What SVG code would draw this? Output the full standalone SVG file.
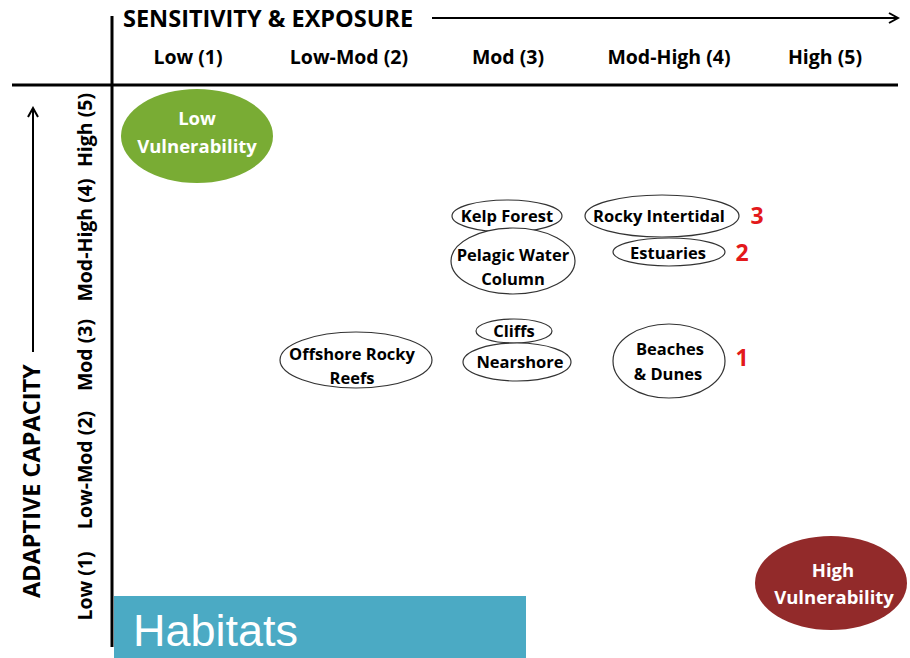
<svg xmlns="http://www.w3.org/2000/svg" width="910" height="658" viewBox="0 0 910 658">
<defs>
<style>
.ax{stroke:#000;stroke-width:3;fill:none}
.arr{stroke:#000;stroke-width:2;fill:none}
.t{font-family:"Open Sans",Lato,"Liberation Sans",sans-serif;font-weight:bold;fill:#000}
.h{font-size:23.5px}
.c{font-size:19.5px;text-anchor:middle}
.n{font-size:16.5px;text-anchor:middle}
.e{fill:#fff;stroke:#333;stroke-width:1.2}
.num{font-family:"Open Sans",Lato,"Liberation Sans",sans-serif;font-weight:bold;font-size:23px;fill:#e3191b;text-anchor:middle}
.w{font-family:"Open Sans",Lato,"Liberation Sans",sans-serif;font-weight:bold;font-size:18.5px;fill:#fff;text-anchor:middle}
</style>
<marker id="ah" viewBox="0 0 12 12" refX="10" refY="6" markerWidth="12" markerHeight="12" markerUnits="userSpaceOnUse" orient="auto">
<path d="M1,1 L10,6 L1,11" fill="none" stroke="#000" stroke-width="2"/>
</marker>
</defs>
<rect width="910" height="658" fill="#fff"/>
<g id="axes">
<line class="ax" x1="112" y1="16" x2="112" y2="647"/>
<line class="ax" x1="12" y1="85" x2="898" y2="85"/>
</g>
<g id="connectors">
<line class="arr" x1="432" y1="18" x2="898" y2="18" marker-end="url(#ah)"/>
<line class="arr" x1="33" y1="352" x2="33" y2="108" marker-end="url(#ah)"/>
</g>
<g id="x-axis-labels">
<text class="t h" x="123" y="27">SENSITIVITY &amp; EXPOSURE</text>
<text class="t c" x="188" y="64">Low (1)</text>
<text class="t c" x="349" y="64">Low-Mod (2)</text>
<text class="t c" x="508" y="64">Mod (3)</text>
<text class="t c" x="669" y="64">Mod-High (4)</text>
<text class="t c" x="825" y="64">High (5)</text>
</g>
<g id="y-axis-labels">
<text class="t h" transform="translate(40,598) rotate(-90)">ADAPTIVE CAPACITY</text>
<text class="t c" transform="translate(92,130) rotate(-90)">High (5)</text>
<text class="t c" transform="translate(92,240) rotate(-90)">Mod-High (4)</text>
<text class="t c" transform="translate(92,355) rotate(-90)">Mod (3)</text>
<text class="t c" transform="translate(92,470) rotate(-90)">Low-Mod (2)</text>
<text class="t c" transform="translate(92,586) rotate(-90)">Low (1)</text>
</g>
<g id="low-vulnerability">
<ellipse cx="197" cy="136" rx="76" ry="47" fill="#79ac34"/>
<text class="w" x="197" y="125">Low</text>
<text class="w" x="197" y="153">Vulnerability</text>
</g>
<g id="high-vulnerability">
<ellipse cx="831" cy="583" rx="76" ry="47" fill="#922a2a"/>
<text class="w" x="833" y="577">High</text>
<text class="w" x="834" y="604">Vulnerability</text>
</g>
<g id="habitats">
<rect x="114" y="596" width="412" height="62" fill="#4baac4"/>
<text x="133" y="646" font-family="Liberation Sans,Arial,sans-serif" font-size="45" fill="#fff">Habitats</text>
</g>
<g id="kelp-forest">
<ellipse class="e" cx="507" cy="216" rx="55" ry="16"/>
<text class="t n" x="507" y="222">Kelp Forest</text>
</g>
<g id="pelagic-water-column">
<ellipse class="e" cx="513" cy="261" rx="62" ry="33"/>
<text class="t n" x="513" y="261">Pelagic Water</text>
<text class="t n" x="513" y="285">Column</text>
</g>
<g id="rocky-intertidal">
<ellipse class="e" cx="662" cy="216" rx="77" ry="21"/>
<text class="t n" x="659" y="222">Rocky Intertidal</text>
<text class="num" x="757" y="224">3</text>
</g>
<g id="estuaries">
<ellipse class="e" cx="669" cy="252" rx="56" ry="14"/>
<text class="t n" x="668" y="259">Estuaries</text>
<text class="num" x="742" y="261">2</text>
</g>
<g id="cliffs">
<ellipse class="e" cx="514" cy="331" rx="38" ry="12"/>
<text class="t n" x="514" y="337">Cliffs</text>
</g>
<g id="nearshore">
<ellipse class="e" cx="517" cy="362" rx="54" ry="19"/>
<text class="t n" x="520" y="368">Nearshore</text>
</g>
<g id="offshore-rocky-reefs">
<ellipse class="e" cx="356" cy="360" rx="76" ry="28"/>
<text class="t n" x="352" y="360">Offshore Rocky</text>
<text class="t n" x="352" y="384">Reefs</text>
</g>
<g id="beaches-dunes">
<ellipse class="e" cx="669" cy="361" rx="56" ry="37"/>
<text class="t n" x="670" y="355">Beaches</text>
<text class="t n" x="668" y="380">&amp; Dunes</text>
<text class="num" x="742" y="366">1</text>
</g>
</svg>
